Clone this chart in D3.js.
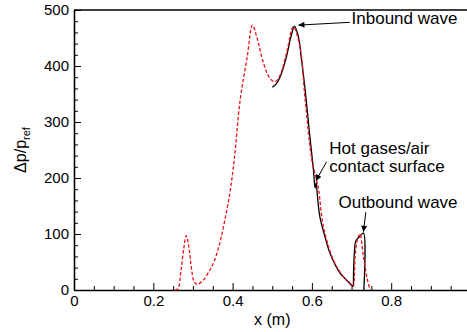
<!DOCTYPE html>
<html lang="en">
<head>
  <meta charset="UTF-8">
  <title>Pressure waves</title>
  <style>
    body { margin: 0; background: #fff; }
    svg { display: block; font-family: "Liberation Sans", Arial, sans-serif; }
    .axis text { font-size: 15px; fill: #000; }
    .axis path, .axis line { stroke: #000; }
    .note { font-size: 17px; fill: #000; }
  </style>
</head>
<body>
<div id="chart"></div>
<script src="https://cdn.jsdelivr.net/npm/d3@7"></script>
<script>
  // dashed red curve
  const redX = [0.255, 0.262, 0.27, 0.277, 0.283, 0.289, 0.296, 0.303, 0.311, 0.325, 0.343, 0.355, 0.367, 0.377,
    0.393, 0.404, 0.419, 0.437, 0.45, 0.461, 0.478, 0.494, 0.507, 0.52, 0.536, 0.553, 0.57, 0.583, 0.6, 0.612,
    0.617, 0.629, 0.654, 0.679, 0.7, 0.704, 0.709, 0.714, 0.721, 0.73, 0.74, 0.747];
  const redY = [0, 2, 35, 75, 97, 80, 40, 15, 10, 17, 36, 54, 82, 113,
    173, 232, 339, 417, 473, 452, 405, 378, 372, 384, 423, 470, 434, 339, 232, 196,
    179, 113, 54, 24, 8, 6, 60, 88, 100, 60, 18, 0];

  // solid black curve
  const blackX = [0.5, 0.51, 0.52, 0.536, 0.547, 0.556, 0.566, 0.574, 0.583, 0.594, 0.604, 0.608, 0.611, 0.613,
    0.62, 0.633, 0.646, 0.671, 0.696, 0.703, 0.705, 0.707, 0.711, 0.72, 0.73, 0.731];
  const blackY = [362, 368, 381, 417, 452, 471, 452, 410, 357, 280, 214, 182, 192, 175,
    131, 95, 65, 30, 12, 7, 30, 65, 88, 95, 102, 0];

  const xMajor = [0, 0.2, 0.4, 0.6, 0.8, 1];
  const xMinor = [0.05, 0.1, 0.15, 0.25, 0.3, 0.35, 0.45, 0.5, 0.55, 0.65, 0.7, 0.75, 0.85, 0.9, 0.95];
  const yMajor = [0, 100, 200, 300, 400, 500];
  const yMinor = [20, 40, 60, 80, 120, 140, 160, 180, 220, 240, 260, 280, 320, 340, 360, 380, 420, 440, 460, 480];

  // labels: text position, arrow start, arrow tip (data units)
  const notes = [
    {lines: ["Inbound wave"], x: 0.700, y: 475, from: [0.696, 478], to: [0.566, 473]},
    {lines: ["Hot gases/air", "contact surface"], x: 0.644, y: 243, from: [0.637, 229], to: [0.610, 195]},
    {lines: ["Outbound wave"], x: 0.667, y: 146, from: [0.736, 139], to: [0.730, 104]}
  ];

  const W = 467, H = 332;
  const margin = {top: 10, left: 74, bottom: 42};
  const height = H - margin.top - margin.bottom;

  const svg = d3.select("#chart").append("svg")
    .attr("width", W)
    .attr("height", H);

  const x = d3.scaleLinear().domain([0, 1]).range([margin.left, margin.left + 396.5]);
  const y = d3.scaleLinear().domain([0, 500]).range([margin.top + height, margin.top]);

  svg.append("defs").append("marker")
    .attr("id", "arrow")
    .attr("viewBox", "0 0 10 10")
    .attr("refX", 10).attr("refY", 5)
    .attr("markerUnits", "userSpaceOnUse")
    .attr("markerWidth", 10).attr("markerHeight", 6)
    .attr("orient", "auto")
    .append("path").attr("d", "M0,0L10,5L0,10z").attr("fill", "#000");

  // minor ticks
  svg.append("g").attr("class", "axis")
    .attr("transform", "translate(0," + y(0) + ")")
    .call(d3.axisBottom(x).tickValues(xMinor).tickSize(-4).tickFormat(""))
    .call(g => g.select(".domain").remove());
  svg.append("g").attr("class", "axis")
    .attr("transform", "translate(" + x(0) + ",0)")
    .call(d3.axisLeft(y).tickValues(yMinor).tickSize(-4).tickFormat(""))
    .call(g => g.select(".domain").remove());

  // major axes
  svg.append("g").attr("class", "axis")
    .attr("transform", "translate(0," + y(0) + ")")
    .call(d3.axisBottom(x).tickValues(xMajor).tickSize(-7).tickSizeOuter(0).tickPadding(5)
      .tickFormat(d => String(d)))
    .call(g => g.select(".domain").attr("stroke-width", 1.6));
  svg.append("g").attr("class", "axis")
    .attr("transform", "translate(" + x(0) + ",0)")
    .call(d3.axisLeft(y).tickValues(yMajor).tickSize(-7).tickSizeOuter(0).tickPadding(5))
    .call(g => g.select(".domain").attr("stroke-width", 1.6));

  // top frame
  svg.append("line")
    .attr("x1", x(0)).attr("x2", x(1))
    .attr("y1", y(500)).attr("y2", y(500))
    .attr("stroke", "#000").attr("stroke-width", 1.5);

  const line = d3.line()
    .x(d => x(d[0]))
    .y(d => y(d[1]))
    .curve(d3.curveCatmullRom.alpha(0.5));

  svg.append("path")
    .datum(d3.zip(blackX, blackY))
    .attr("fill", "none")
    .attr("stroke", "#000")
    .attr("stroke-width", 1.3)
    .attr("d", line);

  svg.append("path")
    .datum(d3.zip(redX, redY))
    .attr("fill", "none")
    .attr("stroke", "#e8141c")
    .attr("stroke-width", 1.3)
    .attr("stroke-dasharray", "3.5,2")
    .attr("d", line);

  // annotations, one text per line
  notes.forEach(n => {
    n.lines.forEach((s, i) => {
      svg.append("text").attr("class", "note")
        .attr("x", x(n.x)).attr("y", y(n.y) + i * 18)
        .text(s);
    });
    svg.append("line")
      .attr("x1", x(n.from[0])).attr("y1", y(n.from[1]))
      .attr("x2", x(n.to[0])).attr("y2", y(n.to[1]))
      .attr("stroke", "#000").attr("stroke-width", 1)
      .attr("marker-end", "url(#arrow)");
  });

  // axis titles
  svg.append("text")
    .attr("x", x(0.5)).attr("y", 325)
    .attr("text-anchor", "middle")
    .attr("font-size", 16)
    .text("x (m)");

  const yt = svg.append("text")
    .attr("transform", "translate(26," + y(250) + ") rotate(-90)")
    .attr("text-anchor", "middle")
    .attr("font-size", 16);
  yt.append("tspan").text("Δp/p");
  yt.append("tspan").attr("font-size", 11).attr("dy", 4).text("ref");
</script>
</body>
</html>
